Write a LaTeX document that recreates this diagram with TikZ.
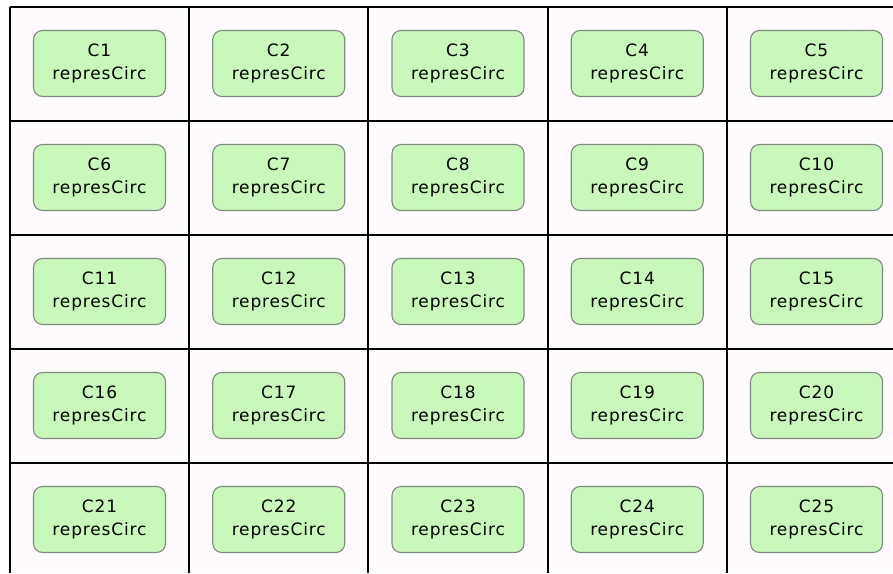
\documentclass[tikz,border=0pt]{standalone}
\usepackage{fontspec}
\setmainfont{DejaVu Sans}
\newfontfamily\boxfont[LetterSpace=5]{DejaVu Sans}
\definecolor{cellbg}{HTML}{FEFAFE}
\definecolor{boxfill}{HTML}{C8F9BA}
\definecolor{boxline}{HTML}{7F8A7F}
\begin{document}
\begin{tikzpicture}[x=1pt,y=-1pt,
  circbox/.style={draw=boxline,fill=boxfill,line width=1.1pt,rounded corners=9pt,
    minimum width=132pt,minimum height=66pt,align=center,inner sep=0pt,
    font=\boxfont\fontsize{17}{23}\selectfont},
  gridline/.style={draw=black,line width=1.4pt}]
\useasboundingbox (0,0) rectangle (893,573);
\fill[cellbg] (10,7) rectangle (893,573);
% grid of cells
\foreach \gx in {10,189,368,548,727} \draw[gridline] (\gx,7) -- (\gx,573);
\foreach \gy in {7,121,235,349,463} \draw[gridline] (10,\gy) -- (893,\gy);
% one box per cell
\foreach \r in {0,...,4}{
  \foreach \c in {0,...,4}{
    \pgfmathtruncatemacro{\n}{\r*5+\c+1}
    \node[circbox] (c\n) at ({99.5+179.25*\c},{63.5+114*\r}) {C\n\\represCirc};
  }
}
\end{tikzpicture}
\end{document}
